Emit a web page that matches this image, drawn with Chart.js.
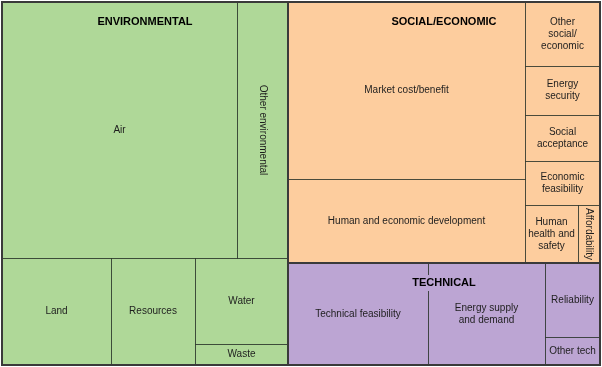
<!DOCTYPE html>
<html><head><meta charset="utf-8">
<script src="https://cdn.jsdelivr.net/npm/chart.js@4"></script>
<style>html,body{margin:0;padding:0;background:#fff}#wrap{width:602px;height:367px;position:relative}</style>
</head><body><div id="wrap"><canvas id="c"></canvas></div>
<script>
// ---- data ----
const groupNames = ["ENVIRONMENTAL", "SOCIAL/ECONOMIC", "TECHNICAL"];
const envLabels = ["Air", "Other environmental", "Land", "Resources", "Water", "Waste"];
const envValues = [277, 60, 54, 41, 37, 9];
const socLabels = ["Market cost/benefit", "Human and economic development", "Other\nsocial/\neconomic",
  "Energy\nsecurity", "Social\nacceptance", "Economic\nfeasibility", "Human\nhealth and\nsafety", "Affordability"];
const socValues = [193, 92, 22, 17, 16, 15, 14, 6];
const techLabels = ["Technical feasibility", "Energy supply\nand demand", "Reliability", "Other tech"];
const techValues = [66, 55, 19, 7];
const groupColors = ["#afd898", "#fdcd9e", "#bca5d3"];

const tree = [
  { name: groupNames[0], labels: envLabels, values: envValues, color: groupColors[0] },
  { name: groupNames[1], labels: socLabels, values: socValues, color: groupColors[1] },
  { name: groupNames[2], labels: techLabels, values: techValues, color: groupColors[2] }
];

// treemap layout: rows grow while the first item's aspect ratio improves
function layout(values, x, y, w, h, kx, ky) {
  const out = new Array(values.length);
  let i = 0;
  while (i < values.length) {
    const rem = values.slice(i).reduce((a, b) => a + b, 0);
    const W = w * kx, H = h * ky;
    const colMode = W >= H; // short side is height -> column on the left
    const aspectFirst = (n) => {
      const s = values.slice(i, i + n).reduce((a, b) => a + b, 0);
      let fw, fh;
      if (colMode) { fw = W * s / rem; fh = H * values[i] / s; }
      else { fh = H * s / rem; fw = W * values[i] / s; }
      return Math.max(fw / fh, fh / fw);
    };
    let n = 1;
    while (i + n < values.length && aspectFirst(n + 1) < aspectFirst(n)) n++;
    const s = values.slice(i, i + n).reduce((a, b) => a + b, 0);
    if (colMode) {
      const cw = w * s / rem; let yy = y;
      for (let k = i; k < i + n; k++) { const hh = h * values[k] / s; out[k] = { x: x, y: yy, w: cw, h: hh }; yy += hh; }
      x += cw; w -= cw;
    } else {
      const ch = h * s / rem; let xx = x;
      for (let k = i; k < i + n; k++) { const ww = w * values[k] / s; out[k] = { x: xx, y: y, w: ww, h: ch }; xx += ww; }
      y += ch; h -= ch;
    }
    i += n;
  }
  return out;
}

const treemapPlugin = {
  id: 'treemapDraw',
  afterDraw(chart) {
    const ctx = chart.ctx, xs = chart.scales.x, ys = chart.scales.y;
    const kx = Math.abs(xs.getPixelForValue(100) - xs.getPixelForValue(0)) / 100;
    const ky = Math.abs(ys.getPixelForValue(100) - ys.getPixelForValue(0)) / 100;
    const px = (r) => {
      const x0 = Math.round(xs.getPixelForValue(r.x)), x1 = Math.round(xs.getPixelForValue(r.x + r.w));
      const y0 = Math.round(ys.getPixelForValue(r.y)), y1 = Math.round(ys.getPixelForValue(r.y + r.h));
      return { x: x0, y: y0, w: x1 - x0, h: y1 - y0 };
    };
    const totals = tree.map(g => g.values.reduce((a, b) => a + b, 0));
    const gRects = layout(totals, 0, 0, 100, 100, kx, ky);
    const leafSets = tree.map((g, gi) => layout(g.values, gRects[gi].x, gRects[gi].y, gRects[gi].w, gRects[gi].h, kx, ky));
    ctx.save();
    // fills + leaf borders
    tree.forEach((g, gi) => {
      leafSets[gi].forEach(r => {
        const p = px(r);
        ctx.fillStyle = g.color;
        ctx.fillRect(p.x, p.y, p.w, p.h);
      });
    });
    ctx.lineWidth = 1;
    ctx.strokeStyle = 'rgba(40,50,40,0.6)';
    tree.forEach((g, gi) => {
      leafSets[gi].forEach(r => {
        const p = px(r);
        ctx.strokeRect(p.x + 0.5, p.y + 0.5, p.w, p.h);
      });
    });
    // leaf labels
    ctx.fillStyle = '#1e1e1e';
    ctx.font = '10px "Liberation Sans", Arial, sans-serif';
    ctx.textAlign = 'center';
    ctx.textBaseline = 'middle';
    const lh = 12;
    tree.forEach((g, gi) => {
      leafSets[gi].forEach((r, li) => {
        const p = px(r);
        const lines = g.labels[li].split('\n');
        const maxW = Math.max(...lines.map(l => ctx.measureText(l).width));
        const cx = p.x + p.w / 2, cy = p.y + p.h / 2;
        ctx.save();
        ctx.translate(cx, cy);
        if (maxW > p.w - 4 && p.h > p.w) ctx.rotate(Math.PI / 2);
        lines.forEach((l, k) => ctx.fillText(l, 0, (k - (lines.length - 1) / 2) * lh));
        ctx.restore();
      });
    });
    // group borders
    ctx.lineWidth = 2;
    ctx.strokeStyle = '#3a3a3a';
    gRects.forEach(r => { const p = px(r); ctx.strokeRect(p.x, p.y, p.w, p.h); });
    // group labels
    ctx.font = 'bold 11px "Liberation Sans", Arial, sans-serif';
    tree.forEach((g, gi) => {
      const p = px(gRects[gi]);
      const tw = ctx.measureText(g.name).width;
      const cx = p.x + p.w / 2, cy = p.y + 20;
      ctx.fillStyle = g.color;
      ctx.fillRect(cx - tw / 2 - 3, cy - 8, tw + 6, 16);
      ctx.fillStyle = '#000';
      ctx.fillText(g.name, cx, cy);
    });
    ctx.restore();
  }
};

new Chart(document.getElementById('c'), {
  type: 'scatter',
  data: { datasets: [{ data: [] }] },
  options: {
    responsive: true, maintainAspectRatio: false, animation: false,
    layout: { padding: { left: 2, top: 2, right: 2, bottom: 2 } },
    scales: {
      x: { type: 'linear', min: 0, max: 100, display: false },
      y: { type: 'linear', min: 0, max: 100, reverse: true, display: false }
    },
    plugins: { legend: { display: false }, tooltip: { enabled: false } }
  },
  plugins: [treemapPlugin]
});
</script></body></html>
